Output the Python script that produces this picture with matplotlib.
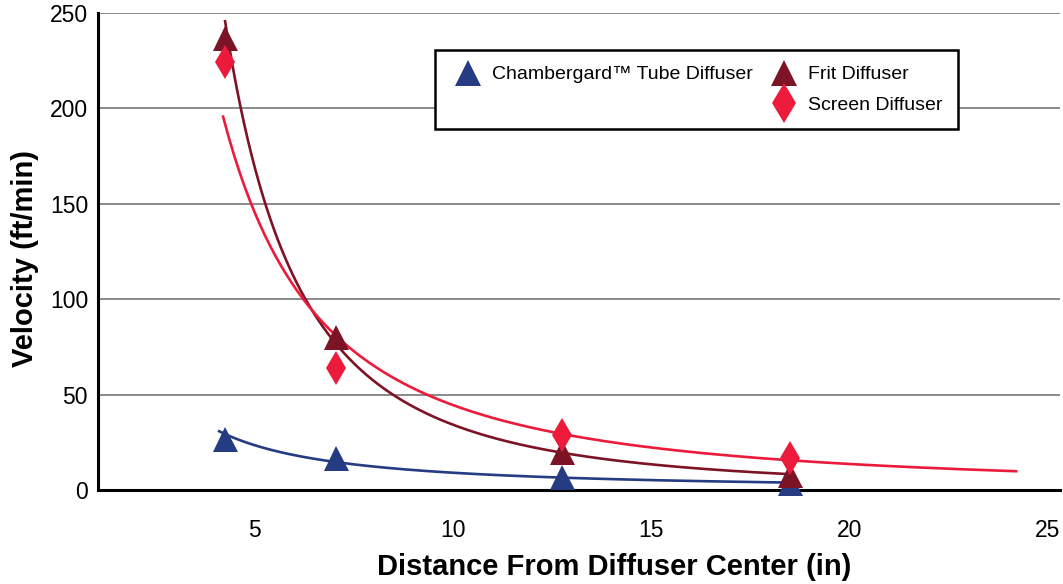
import numpy as np
import matplotlib
matplotlib.use('Agg')
import matplotlib.pyplot as plt
from matplotlib.lines import Line2D

# measured velocities at each distance
distance = [4.25, 7.05, 12.75, 18.5]
chambergard = [26.5, 16.5, 7.0, 3.5]
frit = [237, 80, 20, 8]
screen = [224, 64, 29, 17]

x_ticks = [5, 10, 15, 20, 25]
y_ticks = [0, 50, 100, 150, 200, 250]

# range over which each power trendline is drawn
cham_span = (4.1, 18.5)
frit_span = (4.25, 18.5)
screen_span = (4.2, 24.2)

c_blue = '#263C82'
c_frit = '#7D1426'
c_screen = '#EC1B3B'

plt.rcParams['font.family'] = ['Liberation Sans', 'DejaVu Sans']


def power_fit(x, y, span):
    # y = a * x^b, fitted in log space
    b, loga = np.polyfit(np.log(x), np.log(y), 1)
    xs = np.linspace(span[0], span[1], 300)
    return xs, np.exp(loga) * xs ** b


fig = plt.figure(figsize=(10.63, 5.84), dpi=100)
ax = fig.add_axes([0.092, 0.161, 0.905, 0.817])

for vals, span, col in [(chambergard, cham_span, c_blue),
                        (frit, frit_span, c_frit),
                        (screen, screen_span, c_screen)]:
    xs, ys = power_fit(distance, vals, span)
    ax.plot(xs, ys, color=col, lw=1.9, zorder=3)

ax.plot(distance, chambergard, '^', color=c_blue, ms=18, mew=0, zorder=4, clip_on=False)
ax.plot(distance, frit, '^', color=c_frit, ms=18, mew=0, zorder=4, clip_on=False)
ax.plot(distance, screen, 'd', color=c_screen, ms=17, mew=0, zorder=5, clip_on=False)

ax.set_xlim(1.04, 25.3)
ax.set_ylim(0, 250)
ax.set_xticks(x_ticks)
ax.set_yticks(y_ticks)
ax.tick_params(axis='both', length=0, labelsize=16.5)
ax.tick_params(axis='x', pad=21)
ax.tick_params(axis='y', pad=7)

ax.yaxis.grid(True, color='#777777', lw=1.2)
ax.set_axisbelow(True)
for side in ['top', 'right']:
    ax.spines[side].set_visible(False)
ax.spines['left'].set_linewidth(2.2)
ax.spines['bottom'].set_linewidth(2.2)

ax.set_xlabel('Distance From Diffuser Center (in)', fontsize=21, fontweight='bold')
ax.set_ylabel('Velocity (ft/min)', fontsize=21, fontweight='bold')
ax.xaxis.set_label_coords(0.537, -0.132)
ax.yaxis.set_label_coords(-0.061, 0.486)

handles = [
    Line2D([], [], ls='none', marker='^', color=c_blue, ms=19, mew=0),
    Line2D([], [], ls='none', marker='none'),
    Line2D([], [], ls='none', marker='^', color=c_frit, ms=19, mew=0),
    Line2D([], [], ls='none', marker='d', color=c_screen, ms=20, mew=0),
]
labels = ['Chambergard\u2122 Tube Diffuser', '', 'Frit Diffuser', 'Screen Diffuser']
leg = fig.legend(handles, labels, ncol=2, loc='upper left',
                 bbox_to_anchor=(0.409, 0.914), borderaxespad=0,
                 prop={'size': 14},
                 fancybox=False, framealpha=1, edgecolor='black',
                 handlelength=1.8, handletextpad=0.35, columnspacing=0.7,
                 labelspacing=0.65, borderpad=0.8)
leg.get_frame().set_linewidth(1.8)

fig.savefig('out.png', dpi=100)
